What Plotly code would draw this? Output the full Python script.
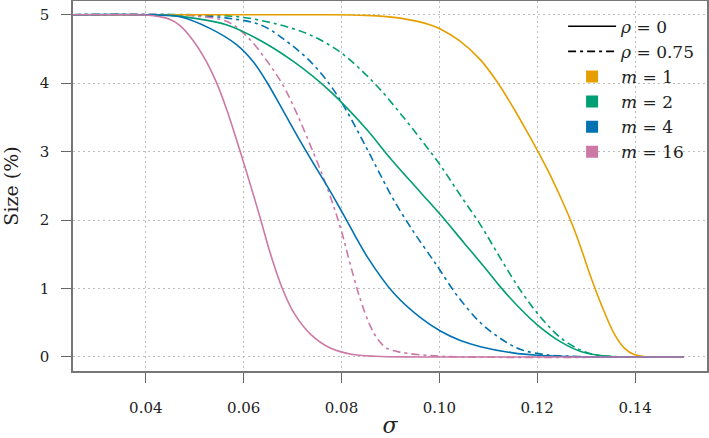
import plotly.graph_objects as go

# ---- data ----
m1_sigma = [0.025, 0.075, 0.085, 0.092, 0.0982, 0.1002, 0.1041, 0.1084, 0.1118, 0.1152, 0.118, 0.1203, 0.1227, 0.1248, 0.1268, 0.1289, 0.1309, 0.1337, 0.1358, 0.1378, 0.1398, 0.1418, 0.145, 0.15]
m1_rho0 = [5, 5, 4.99, 4.95, 4.85, 4.79, 4.62, 4.34, 4.02, 3.63, 3.28, 2.98, 2.65, 2.33, 2.0, 1.6, 1.18, 0.66, 0.33, 0.13, 0.035, 0.005, 0, 0]

m2_sigma0 = [0.025, 0.04, 0.045, 0.0497, 0.0566, 0.0635, 0.0703, 0.0777, 0.0852, 0.09, 0.0962, 0.1002, 0.105, 0.1098, 0.1125, 0.1166, 0.12, 0.1248, 0.1289, 0.1337, 0.138, 0.15]
m2_rho0 = [5, 5, 4.99, 4.95, 4.85, 4.62, 4.31, 3.88, 3.32, 2.9, 2.4, 2.08, 1.67, 1.26, 1.02, 0.7, 0.47, 0.22, 0.08, 0.015, 0, 0]

m2_sigma75 = [0.025, 0.05, 0.055, 0.06, 0.0669, 0.0737, 0.0798, 0.0846, 0.088, 0.092, 0.0962, 0.1002, 0.1043, 0.1084, 0.1125, 0.1166, 0.1207, 0.1248, 0.1289, 0.132, 0.136, 0.14, 0.15]
m2_rho75 = [5, 5, 4.99, 4.96, 4.86, 4.7, 4.45, 4.15, 3.9, 3.56, 3.18, 2.8, 2.36, 1.93, 1.44, 0.97, 0.58, 0.28, 0.1, 0.03, 0.005, 0, 0]

m4_sigma0 = [0.025, 0.04, 0.044, 0.047, 0.0531, 0.0586, 0.062, 0.0647, 0.0682, 0.0716, 0.075, 0.0777, 0.0804, 0.0852, 0.0907, 0.0962, 0.1002, 0.1043, 0.1084, 0.115, 0.12, 0.125, 0.13, 0.15]
m4_rho0 = [5, 5, 4.99, 4.97, 4.8, 4.56, 4.31, 4.02, 3.58, 3.15, 2.74, 2.42, 2.08, 1.47, 0.93, 0.57, 0.38, 0.24, 0.15, 0.06, 0.025, 0.01, 0, 0]

m4_sigma75 = [0.025, 0.045, 0.05, 0.0566, 0.0635, 0.0688, 0.0737, 0.0777, 0.0805, 0.0839, 0.0873, 0.0907, 0.0948, 0.0982, 0.1002, 0.1036, 0.1084, 0.1125, 0.1166, 0.122, 0.127, 0.132, 0.15]
m4_rho75 = [5, 5, 4.99, 4.95, 4.85, 4.61, 4.31, 3.97, 3.66, 3.22, 2.75, 2.29, 1.82, 1.47, 1.26, 0.9, 0.5, 0.27, 0.11, 0.03, 0.01, 0, 0]

m16_sigma0 = [0.025, 0.036, 0.04, 0.0429, 0.045, 0.047, 0.0497, 0.0525, 0.0545, 0.0566, 0.0593, 0.0614, 0.0635, 0.0655, 0.0679, 0.0703, 0.0737, 0.0777, 0.082, 0.087, 0.095, 0.15]
m16_rho0 = [5, 5, 4.995, 4.97, 4.93, 4.84, 4.62, 4.3, 4.0, 3.6, 3.0, 2.51, 2.0, 1.5, 1.0, 0.64, 0.33, 0.13, 0.04, 0.01, 0, 0]

m16_sigma75 = [0.025, 0.045, 0.05, 0.0566, 0.0607, 0.0647, 0.0682, 0.0709, 0.0737, 0.0764, 0.0784, 0.0801, 0.0818, 0.0839, 0.0859, 0.0875, 0.0892, 0.092, 0.0982, 0.105, 0.15]
m16_rho75 = [5, 5, 4.98, 4.9, 4.68, 4.33, 3.95, 3.55, 3.08, 2.6, 2.2, 1.81, 1.35, 0.83, 0.45, 0.25, 0.13, 0.07, 0.02, 0, 0]

x_ticks = [0.04, 0.06, 0.08, 0.10, 0.12, 0.14]
y_ticks = [0, 1, 2, 3, 4, 5]

COL = {"1": "#E69F00", "2": "#009E73", "4": "#0072B2", "16": "#CC79A7"}
DASHDOT = "8px,4px,3px,4px"
FONT = "DejaVu Serif"

fig = go.Figure()

series = [
    (m2_sigma75, m2_rho75, "2", DASHDOT),
    (m4_sigma75, m4_rho75, "4", DASHDOT),
    (m16_sigma75, m16_rho75, "16", DASHDOT),
    (m1_sigma, m1_rho0, "1", "solid"),
    (m2_sigma0, m2_rho0, "2", "solid"),
    (m4_sigma0, m4_rho0, "4", "solid"),
    (m16_sigma0, m16_rho0, "16", "solid"),
]
for xs, ys, m, dash in series:
    fig.add_trace(go.Scatter(
        x=xs, y=ys, mode="lines", showlegend=False,
        line=dict(color=COL[m], width=1.6, dash=dash, shape="spline", smoothing=1.0),
        hoverinfo="skip"))

# legend entries
fig.add_trace(go.Scatter(x=[None], y=[None], mode="lines", name="<i>ρ</i> = 0",
                         line=dict(color="black", width=1.6)))
fig.add_trace(go.Scatter(x=[None], y=[None], mode="lines", name="<i>ρ</i> = 0.75",
                         line=dict(color="black", width=1.6, dash=DASHDOT)))
for m in ["1", "2", "4", "16"]:
    fig.add_trace(go.Scatter(x=[None], y=[None], mode="markers", name=f"<i>m</i> = {m}",
                             marker=dict(symbol="square", size=12, color=COL[m])))

axis_common = dict(
    showline=True, linecolor="#777777", linewidth=1.5, mirror=True,
    showgrid=True, gridcolor="#bdbdbd", gridwidth=1, griddash="2px,3px",
    zeroline=False, ticks="outside", ticklen=10, tickwidth=1.3, tickcolor="#666666",
    tickfont=dict(family=FONT, size=15, color="#222222"), automargin=False,
)

fig.update_layout(
    width=709, height=438,
    margin=dict(l=73, r=2, t=1, b=67),
    paper_bgcolor="white", plot_bgcolor="white",
    font=dict(family=FONT, color="#222222"),
    showlegend=True,
    legend=dict(x=0.773, y=0.979, xanchor="left", yanchor="top",
                bgcolor="rgba(0,0,0,0)", font=dict(family=FONT, size=17),
                tracegroupgap=0, itemwidth=48),
    xaxis=dict(range=[0.02512, 0.1547], tickvals=x_ticks, tickformat=".2f",
               ticklabelstandoff=12,
               title=dict(text="<i>σ</i>", font=dict(family=FONT, size=22), standoff=8),
               **axis_common),
    yaxis=dict(range=[-0.205, 5.2], tickvals=y_ticks, ticklabelstandoff=9,
               title=dict(text="Size (%)", font=dict(family=FONT, size=19), standoff=18),
               **axis_common),
)

fig.write_html("out.html")
